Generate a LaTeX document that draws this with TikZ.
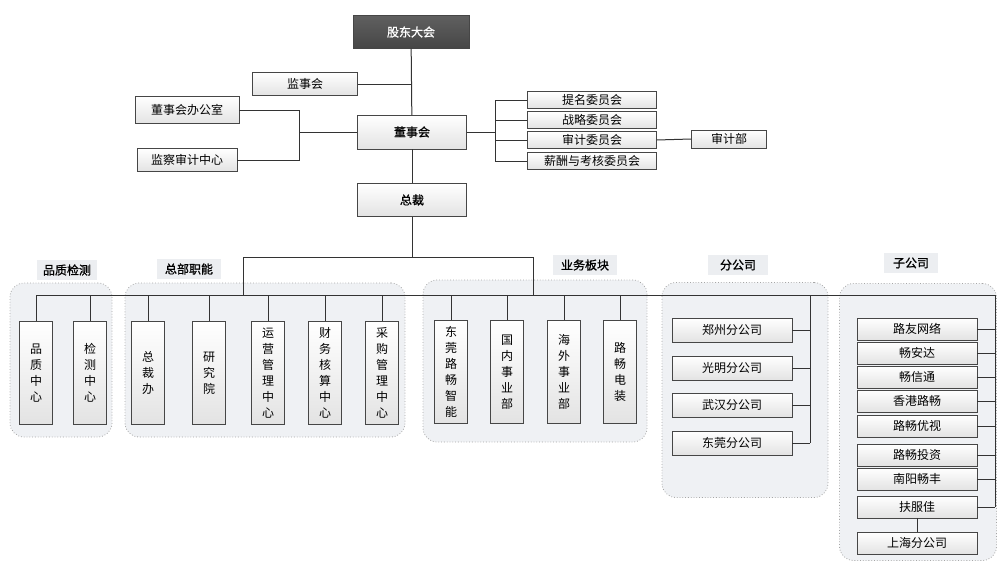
\documentclass[tikz,border=0pt]{standalone}
\usepackage{fontspec}
\setmainfont{Noto Sans CJK SC}[AutoFakeBold=1.2]
\definecolor{groupfill}{RGB}{239,241,244}
\definecolor{tagfill}{RGB}{236,238,241}
\begin{document}
\begin{tikzpicture}[x=1pt,y=-1pt]
      \tikzset{box/.style={draw=gray!55!black, rectangle, inner sep=0pt, top color=white, bottom color=gray!22, font=\fontsize{12}{16}\selectfont},
               vbox/.style={box, minimum width=33pt, minimum height=103pt, align=center},
               hbox/.style={box, minimum width=120pt, minimum height=22pt},
               group/.style={draw=gray!70, dotted, thick, rounded corners=14pt, fill=groupfill, inner sep=0pt},
               tag/.style={fill=tagfill, inner sep=0pt, minimum height=20pt, font=\fontsize{12}{14}\selectfont\bfseries},
               conn/.style={draw=black!80, line width=1pt}}
    \useasboundingbox (0,0) rectangle (998,570);

    % groups
    \node[group, minimum width=102pt, minimum height=154pt] at (61,360) (g_1) {};
    \node[group, minimum width=280pt, minimum height=154pt] at (265,360) (g_2) {};
    \node[group, minimum width=224pt, minimum height=162pt] at (535,361) (g_3) {};
    \node[group, minimum width=166pt, minimum height=215pt] at (745,390) (g_4) {};
    \node[group, minimum width=157pt, minimum height=277pt] at (918,422) (g_5) {};
    \node[tag, minimum width=60pt] at (67,270) (l_1) {品质检测};
    \node[tag, minimum width=64pt] at (189,269) (l_2) {总部职能};
    \node[tag, minimum width=64pt] at (585,265) (l_3) {业务板块};
    \node[tag, minimum width=60pt] at (738,265) (l_4) {分公司};
    \node[tag, minimum width=54pt] at (911,263) (l_5) {子公司};

    % top
    \node[box, minimum width=116pt, minimum height=33pt, top color=gray!75!black, bottom color=gray!55!black, text=white, font=\fontsize{12}{16}\selectfont\bfseries] at (411,32) (gd) {股东大会};
    \node[box, minimum width=105pt, minimum height=23pt] at (305,84) (js) {监事会};
    \node[box, minimum width=104pt, minimum height=27pt] at (187,110) (o_1) {董事会办公室};
    \node[box, minimum width=100pt, minimum height=23pt] at (187,160) (o_2) {监察审计中心};
    \node[box, minimum width=109pt, minimum height=34pt, font=\fontsize{12}{16}\selectfont\bfseries] at (412,132) (ds) {董事会};
    \node[box, minimum width=109pt, minimum height=33pt, font=\fontsize{12}{16}\selectfont\bfseries] at (412,200) (zc) {总裁};
    \node[box, minimum width=129pt, minimum height=17pt] at (592,100) (c_1) {提名委员会};
    \node[box, minimum width=129pt, minimum height=17pt] at (592,120) (c_2) {战略委员会};
    \node[box, minimum width=129pt, minimum height=17pt] at (592,140) (c_3) {审计委员会};
    \node[box, minimum width=129pt, minimum height=17pt] at (592,161) (c_4) {薪酬与考核委员会};
    \node[box, minimum width=75pt, minimum height=18pt] at (729,139) (s_1) {审计部};

    % vertical boxes
    \node[vbox] at (36,373) (q_1) {品\\质\\中\\心};
    \node[vbox] at (90,373) (q_2) {检\\测\\中\\心};
    \node[vbox] at (148,373) (h_1) {总\\裁\\办};
    \node[vbox] at (209,373) (h_2) {研\\究\\院};
    \node[vbox] at (268,373) (h_3) {运\\营\\管\\理\\中\\心};
    \node[vbox] at (325,373) (h_4) {财\\务\\核\\算\\中\\心};
    \node[vbox] at (382,373) (h_5) {采\\购\\管\\理\\中\\心};
    \node[vbox] at (451,372) (y_1) {东\\莞\\路\\畅\\智\\能};
    \node[vbox] at (507,372) (y_2) {国\\内\\事\\业\\部};
    \node[vbox] at (564,372) (y_3) {海\\外\\事\\业\\部};
    \node[vbox] at (620,372) (y_4) {路\\畅\\电\\装};

    % branch and subsidiary boxes
    \node[hbox, minimum height=24pt] at (732,330) (f_1) {郑州分公司};
    \node[hbox, minimum height=24pt] at (732,368) (f_2) {光明分公司};
    \node[hbox, minimum height=24pt] at (732,405) (f_3) {武汉分公司};
    \node[hbox, minimum height=24pt] at (732,443) (f_4) {东莞分公司};
    \node[hbox] at (917,329) (z_1) {路友网络};
    \node[hbox] at (917,353) (z_2) {畅安达};
    \node[hbox] at (917,377) (z_3) {畅信通};
    \node[hbox] at (917,401) (z_4) {香港路畅};
    \node[hbox] at (917,426) (z_5) {路畅优视};
    \node[hbox] at (917,455) (z_6) {路畅投资};
    \node[hbox] at (917,479) (z_7) {南阳畅丰};
    \node[hbox] at (917,507) (z_8) {扶服佳};
    \node[hbox] at (917,543) (z_9) {上海分公司};

    \coordinate (k_l) at (299,132);
    \coordinate (k_r) at (495,132);
    \coordinate (t_m) at (412,257);
    \coordinate (t_l) at (243,257);
    \coordinate (t_r) at (533,257);
    \coordinate (bus) at (36,295);
    \coordinate (bus_e) at (995,295);
    \coordinate (f_x) at (810,295);

    \draw[conn] (gd) -- (ds);
    \draw[conn] (js.east) -- (js.east -| gd.south);
    \draw[conn] (ds.west) -- (k_l);
    \draw[conn] (o_1.east) -| (k_l);
    \draw[conn] (o_2.east) -| (k_l);
    \draw[conn] (ds.east) -- (k_r);
    \draw[conn] (c_1.west) -| (k_r);
    \draw[conn] (c_2.west) -| (k_r);
    \draw[conn] (c_3.west) -| (k_r);
    \draw[conn] (c_4.west) -| (k_r);
    \draw[conn] (c_3.east) -- (s_1.west);
    \draw[conn] (ds) -- (zc);
    \draw[conn] (zc.south) -- (t_m);
    \draw[conn] (t_l) -- (t_r);
    \draw[conn] (t_l) -- (t_l |- bus);
    \draw[conn] (t_r) -- (t_r |- bus);
    \draw[conn] (bus) -- (bus_e);

    \draw[conn] (q_1.north |- bus) -- (q_1.north);
    \draw[conn] (q_2.north |- bus) -- (q_2.north);
    \draw[conn] (h_1.north |- bus) -- (h_1.north);
    \draw[conn] (h_2.north |- bus) -- (h_2.north);
    \draw[conn] (h_3.north |- bus) -- (h_3.north);
    \draw[conn] (h_4.north |- bus) -- (h_4.north);
    \draw[conn] (h_5.north |- bus) -- (h_5.north);
    \draw[conn] (y_1.north |- bus) -- (y_1.north);
    \draw[conn] (y_2.north |- bus) -- (y_2.north);
    \draw[conn] (y_3.north |- bus) -- (y_3.north);
    \draw[conn] (y_4.north |- bus) -- (y_4.north);

    \draw[conn] (f_x) -- (f_x |- f_4.east);
    \draw[conn] (f_1.east) -- (f_1.east -| f_x);
    \draw[conn] (f_2.east) -- (f_2.east -| f_x);
    \draw[conn] (f_3.east) -- (f_3.east -| f_x);
    \draw[conn] (f_4.east) -- (f_4.east -| f_x);

    \draw[conn] (bus_e) -- (bus_e |- z_8.east);
    \draw[conn] (z_1.east) -- (z_1.east -| bus_e);
    \draw[conn] (z_2.east) -- (z_2.east -| bus_e);
    \draw[conn] (z_3.east) -- (z_3.east -| bus_e);
    \draw[conn] (z_4.east) -- (z_4.east -| bus_e);
    \draw[conn] (z_5.east) -- (z_5.east -| bus_e);
    \draw[conn] (z_6.east) -- (z_6.east -| bus_e);
    \draw[conn] (z_7.east) -- (z_7.east -| bus_e);
    \draw[conn] (z_8.east) -- (z_8.east -| bus_e);
    \draw[conn] (z_8) -- (z_9);
  \end{tikzpicture}
\end{document}
